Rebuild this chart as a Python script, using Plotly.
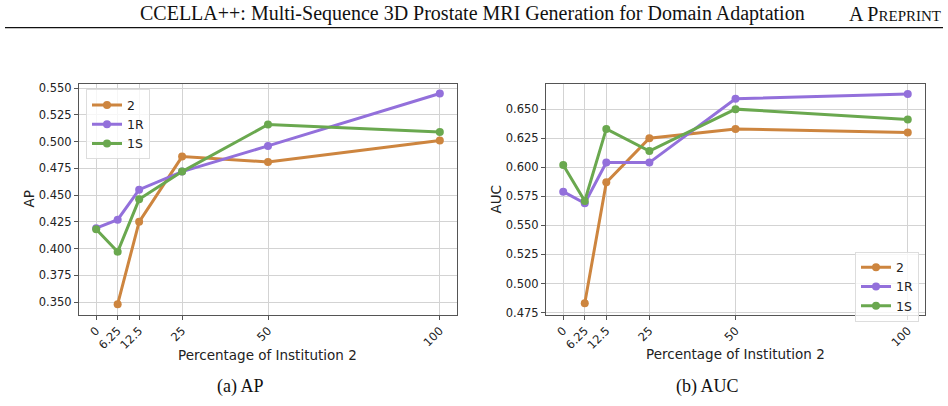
import plotly.graph_objects as go

# ---- data ----
pct = [0, 6.25, 12.5, 25, 50, 100]
pct_2 = [6.25, 12.5, 25, 50, 100]
tick_vals = [0, 6.25, 12.5, 25, 50, 100]
tick_text = ["0", "6.25", "12.5", "25", "50", "100"]

ap_2 = [0.348, 0.425, 0.486, 0.481, 0.501]
ap_1r = [0.419, 0.427, 0.455, 0.472, 0.496, 0.545]
ap_1s = [0.418, 0.397, 0.446, 0.472, 0.516, 0.509]

auc_2 = [0.483, 0.587, 0.625, 0.633, 0.630]
auc_1r = [0.579, 0.569, 0.604, 0.604, 0.659, 0.663]
auc_1s = [0.602, 0.571, 0.633, 0.614, 0.650, 0.641]

series_names = ["2", "1R", "1S"]
colors = ["#CD853F", "#9370DB", "#6AA84F"]

W, H = 948, 406


def px_x(x):
    return x / W


def px_y(y):
    return 1 - y / H


fig = go.Figure()

ap_series = [(pct_2, ap_2), (pct, ap_1r), (pct, ap_1s)]
auc_series = [(pct_2, auc_2), (pct, auc_1r), (pct, auc_1s)]

for (xs, ys), name, c in zip(ap_series, series_names, colors):
    fig.add_trace(go.Scatter(x=xs, y=ys, name=name, mode="lines+markers",
                             line=dict(color=c, width=3), marker=dict(color=c, size=8),
                             xaxis="x", yaxis="y", legend="legend"))
for (xs, ys), name, c in zip(auc_series, series_names, colors):
    fig.add_trace(go.Scatter(x=xs, y=ys, name=name, mode="lines+markers",
                             line=dict(color=c, width=3), marker=dict(color=c, size=8),
                             xaxis="x2", yaxis="y2", legend="legend2"))

tick_font = dict(family="DejaVu Sans", size=11.5, color="#222")
axis_common = dict(showgrid=True, gridcolor="#d3d3d3", gridwidth=1,
                   showline=True, linecolor="#555", linewidth=1, mirror=True,
                   ticks="outside", ticklen=4, tickcolor="#555", tickfont=tick_font,
                   zeroline=False)

ydom = [px_y(318), px_y(83)]

legend_common = dict(bgcolor="rgba(255,255,255,0.8)", bordercolor="#dddddd", borderwidth=1,
                     font=dict(family="DejaVu Sans", size=12.5, color="#222"), itemwidth=30,
                     tracegroupgap=0)

fig.update_layout(
    width=W, height=H,
    margin=dict(l=0, r=0, t=0, b=0),
    paper_bgcolor="white", plot_bgcolor="white",
    xaxis=dict(domain=[px_x(79), px_x(457)], range=[-5, 105], tickvals=tick_vals,
               ticktext=tick_text, tickangle=-45, anchor="y", **axis_common),
    yaxis=dict(domain=ydom, range=[0.3383, 0.5543], tickvals=[0.350, 0.375, 0.400, 0.425, 0.450, 0.475, 0.500, 0.525, 0.550],
               tickformat=".3f", anchor="x", **axis_common),
    xaxis2=dict(domain=[px_x(546), px_x(925)], range=[-5, 105], tickvals=tick_vals,
                ticktext=tick_text, tickangle=-45, anchor="y2", **axis_common),
    yaxis2=dict(domain=ydom, range=[0.4733, 0.672], tickvals=[0.475, 0.500, 0.525, 0.550, 0.575, 0.600, 0.625, 0.650],
                tickformat=".3f", anchor="x2", **axis_common),
    legend=dict(x=px_x(86), y=px_y(89), xanchor="left", yanchor="top", **legend_common),
    legend2=dict(x=px_x(919), y=px_y(254), xanchor="right", yanchor="top", **legend_common),
    showlegend=True,
)

label_font = dict(family="DejaVu Sans", size=13.5, color="#222")
serif = dict(family="Liberation Serif", size=18, color="#111")
header_font = dict(family="Liberation Serif", size=20, color="#111")

annotations = [
    dict(text="Percentage of Institution 2", x=px_x(267.5), y=px_y(359), font=label_font),
    dict(text="Percentage of Institution 2", x=px_x(735.7), y=px_y(358), font=label_font),
    dict(text="AP", x=px_x(29), y=px_y(201), textangle=-90, font=label_font),
    dict(text="AUC", x=px_x(496), y=px_y(201), textangle=-90, font=label_font),
    dict(text="(a) AP", x=px_x(240), y=px_y(391), font=serif),
    dict(text="(b) AUC", x=px_x(707.5), y=px_y(391), font=serif),
    dict(text="CCELLA++: Multi-Sequence 3D Prostate MRI Generation for Domain Adaptation",
         x=px_x(472.5), y=px_y(12), font=header_font),
    dict(text="A P<span style='font-size:15px'>REPRINT</span>",
         x=px_x(895), y=px_y(12), font=header_font),
]
for a in annotations:
    a.update(xref="paper", yref="paper", showarrow=False, xanchor="center", yanchor="middle")
fig.update_layout(annotations=annotations)

fig.add_shape(type="line", xref="paper", yref="paper", x0=px_x(5), x1=px_x(943),
              y0=px_y(26), y1=px_y(26), line=dict(color="#111", width=1.2))

fig.write_html("out.html")
